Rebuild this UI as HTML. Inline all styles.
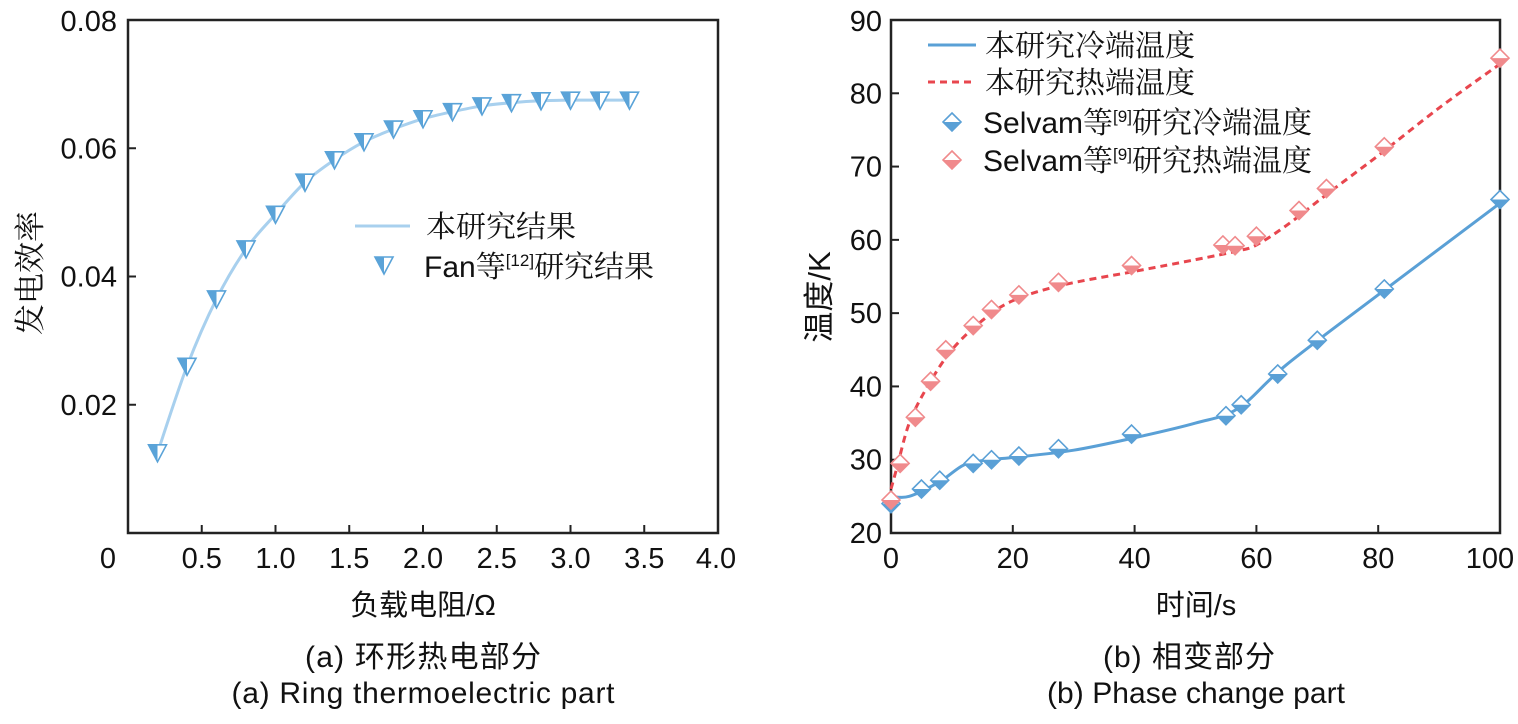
<!DOCTYPE html>
<html><head><meta charset="utf-8"><style>
body{margin:0;background:#fff;width:1518px;height:719px;overflow:hidden}
svg text{font-family:"Liberation Sans","Noto Sans CJK SC",sans-serif;fill:#111}
.cn{font-family:"Noto Serif CJK SC","Noto Sans CJK SC",serif}
</style></head><body>
<svg id="svg" width="1518" height="719">
<g id="left"></g>
<g id="right"></g>
<text x="423" y="615" font-size="29" text-anchor="middle">负载电阻/Ω</text>
<text x="423" y="667" font-size="30" textLength="236" text-anchor="middle">(a) 环形热电部分</text>
<text x="423" y="703" font-size="30" textLength="383" text-anchor="middle">(a) Ring thermoelectric part</text>
<text transform="translate(41,273) rotate(-90)" font-size="31" text-anchor="middle" class="cn">发电效率</text>
<text x="1196" y="615" font-size="29" text-anchor="middle">时间/s</text>
<text x="1189" y="667" font-size="30" textLength="172" text-anchor="middle">(b) 相变部分</text>
<text x="1196" y="703" font-size="30" textLength="298" text-anchor="middle">(b) Phase change part</text>
<text transform="translate(830,297) rotate(-90)" font-size="31" text-anchor="middle">温度/K</text>
</svg>
<script>
const effX=[0.2,0.4,0.6,0.8,1.0,1.2,1.4,1.6,1.8,2.0,2.2,2.4,2.6,2.8,3.0,3.2,3.4];
const effY=[0.0125,0.026,0.0365,0.0443,0.0497,0.0547,0.0582,0.061,0.063,0.0646,0.0657,0.0666,0.0671,0.0674,0.0675,0.0675,0.0675];
const leftXTicks=[0.5,1.0,1.5,2.0,2.5,3.0,3.5];
const leftXLabels=["0.5","1.0","1.5","2.0","2.5","3.0","3.5"];
const leftYTicks=[0.02,0.04,0.06];
const leftYLabels=["0.02","0.04","0.06"];
const coldLineT=[0,3,8,12,16,20,30,40,50,57,65,80,100];
const coldLineV=[25,25,27,29.3,30,30.3,31.3,33,35,37,43,52.5,65];
const hotLineT=[0,1,3,6,10,15,20,28,40,50,57,60,65,72,80,90,100];
const hotLineV=[26,29,35,40,45,49,51.7,53.8,55.7,57.3,58.5,59.3,62,66.5,71.5,78,84];
const coldPtT=[0,5,8,13.5,16.5,21,27.5,39.5,55,57.5,63.5,70,81,100];
const coldPtV=[24,26,27.2,29.5,30,30.5,31.5,33.5,36,37.5,41.7,46.3,53.3,65.5];
const hotPtT=[0,1.5,4,6.5,9,13.5,16.5,21,27.5,39.5,54.5,56.5,60,67,71.5,81,100];
const hotPtV=[24.5,29.5,35.8,40.7,45,48.3,50.5,52.5,54.2,56.5,59.3,59.2,60.5,64,67,72.7,84.8];
const rightXTicks=[0,20,40,60,80,100];
const rightYTicks=[20,30,40,50,60,70,80,90];

const NS="http://www.w3.org/2000/svg";
function mk(p,t,a,txt){const e=document.createElementNS(NS,t);for(const k in a)e.setAttribute(k,a[k]);if(txt!==undefined)e.textContent=txt;p.appendChild(e);return e;}
function smooth(pts){let d="M"+pts[0][0]+","+pts[0][1];for(let i=0;i<pts.length-1;i++){const p0=pts[i-1]||pts[i],p1=pts[i],p2=pts[i+1],p3=pts[i+2]||p2;d+=" C"+(p1[0]+(p2[0]-p0[0])/6)+","+(p1[1]+(p2[1]-p0[1])/6)+" "+(p2[0]-(p3[0]-p1[0])/6)+","+(p2[1]-(p3[1]-p1[1])/6)+" "+p2[0]+","+p2[1];}return d;}
const FS=29;
// LEFT
const L=document.getElementById('left');
const lx=v=>128+v*(718-128)/4, ly=v=>533-v*(533-20)/0.08;
let e=mk(L,'rect',{x:128,y:20,width:590,height:513,fill:'none',stroke:'#222','stroke-width':2.5});

leftXTicks.forEach((t,i)=>{
 let tk=mk(L,'line',{x1:lx(t),x2:lx(t),y1:533,y2:525,stroke:'#222','stroke-width':2});
 
 let tl=mk(L,'text',{x:lx(t),y:568,'font-size':FS,'text-anchor':'middle'},leftXLabels[i]);
 
});
e=mk(L,'text',{x:108,y:568,'font-size':FS,'text-anchor':'middle'},"0");
e=mk(L,'text',{x:716,y:568,'font-size':FS,'text-anchor':'middle'},"4.0");
leftYTicks.forEach((t,i)=>{
 let tk=mk(L,'line',{x1:128,x2:136,y1:ly(t),y2:ly(t),stroke:'#222','stroke-width':2});
 
 let tl=mk(L,'text',{x:117,y:ly(t)+10,'font-size':FS,'text-anchor':'end'},leftYLabels[i]);
 
});
e=mk(L,'text',{x:117,y:31,'font-size':FS,'text-anchor':'end'},"0.08");
e=mk(L,'path',{d:smooth(effX.map((x,i)=>[lx(x),ly(effY[i])])),fill:'none',stroke:'#a8d0ee','stroke-width':3});

function tri(p,x,y){const g=mk(p,'g',{});
 mk(g,'path',{d:`M${x-9},${y-8} L${x+9},${y-8} L${x},${y+9} Z`,fill:'#fff',stroke:'#5aa3d8','stroke-width':1.6});
 mk(g,'path',{d:`M${x-9},${y-8} L${x},${y-8} L${x},${y+9} Z`,fill:'#5aa3d8'});return g;}
effX.forEach((x,i)=>{const g=tri(L,lx(x),ly(effY[i]));});
e=mk(L,'line',{x1:355,x2:410,y1:226,y2:226,stroke:'#a8d0ee','stroke-width':3});
e=mk(L,'text',{x:426,y:237,'font-size':30,class:'cn'},"本研究结果");
e=tri(L,384,265);
e=mk(L,'text',{x:424,y:277,'font-size':30});
e.innerHTML='Fan<tspan class="cn">等</tspan><tspan font-size="17" dy="-11">[12]</tspan><tspan class="cn" dy="11">研究结果</tspan>';

// RIGHT
const R=document.getElementById('right');
const rx=v=>891+v*(1500-891)/100, ry=v=>533-(v-20)*(533-20)/70;
e=mk(R,'rect',{x:891,y:20,width:609,height:513,fill:'none',stroke:'#222','stroke-width':2.5});

rightXTicks.forEach(t=>{
 let tk=mk(R,'line',{x1:rx(t),x2:rx(t),y1:533,y2:525,stroke:'#222','stroke-width':2});
 
 let tl=mk(R,'text',{x:Math.min(rx(t),1490),y:568,'font-size':FS,'text-anchor':'middle'},String(t));
 
});
rightYTicks.forEach(t=>{
 let tk=mk(R,'line',{x1:891,x2:899,y1:ry(t),y2:ry(t),stroke:'#222','stroke-width':2});
 
 let tl=mk(R,'text',{x:882,y:Math.max(ry(t)+10,31),'font-size':FS,'text-anchor':'end'},String(t));
 
});
const BLUE='#5aa0d6',RED='#ee6b6e';
e=mk(R,'path',{d:smooth(coldLineT.map((t,i)=>[rx(t),ry(coldLineV[i])])),fill:'none',stroke:BLUE,'stroke-width':3});

e=mk(R,'path',{d:smooth(hotLineT.map((t,i)=>[rx(t),ry(hotLineV[i])])),fill:'none',stroke:'#e8464e','stroke-width':3,'stroke-dasharray':'7,5'});

function dia(p,x,y,c){const g=mk(p,'g',{});
 mk(g,'path',{d:`M${x},${y-9} L${x+9},${y} L${x},${y+9} L${x-9},${y} Z`,fill:'#fff',stroke:c,'stroke-width':1.6});
 mk(g,'path',{d:`M${x-9},${y} L${x+9},${y} L${x},${y+9} Z`,fill:c});return g;}
coldPtT.forEach((t,i)=>{const g=dia(R,rx(t),ry(coldPtV[i]),BLUE);});
hotPtT.forEach((t,i)=>{const g=dia(R,rx(t),ry(hotPtV[i]),'#f08a8c');});
e=mk(R,'line',{x1:928,x2:976,y1:45,y2:45,stroke:BLUE,'stroke-width':3});
e=mk(R,'text',{x:985,y:56,'font-size':30,class:'cn'},"本研究冷端温度");
e=mk(R,'line',{x1:928,x2:976,y1:82,y2:82,stroke:'#e8464e','stroke-width':3,'stroke-dasharray':'7,5'});
e=mk(R,'text',{x:985,y:93,'font-size':30,class:'cn'},"本研究热端温度");
e=dia(R,952,122,BLUE);
e=mk(R,'text',{x:983,y:133,'font-size':30});
e.innerHTML='Selvam<tspan class="cn">等</tspan><tspan font-size="17" dy="-11">[9]</tspan><tspan class="cn" dy="11">研究冷端温度</tspan>';
e=dia(R,952,160,'#f08a8c');
e=mk(R,'text',{x:983,y:171,'font-size':30});
e.innerHTML='Selvam<tspan class="cn">等</tspan><tspan font-size="17" dy="-11">[9]</tspan><tspan class="cn" dy="11">研究热端温度</tspan>';
</script>
</body></html>
